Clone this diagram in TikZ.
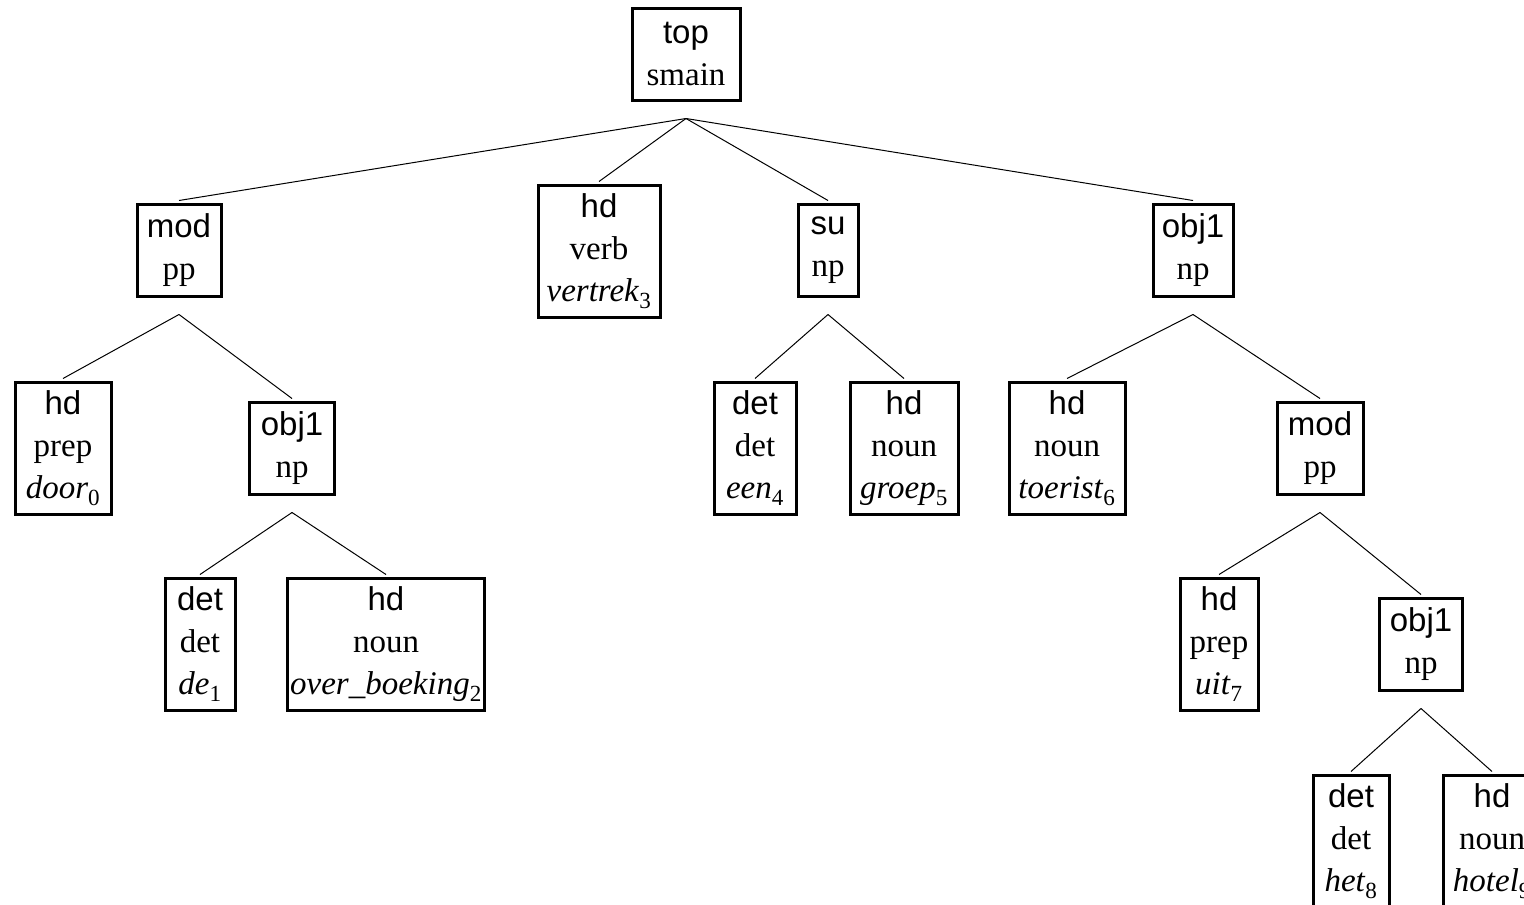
\documentclass[tikz,border=0pt]{standalone}
\usepackage{fontspec}
\setmainfont{Liberation Serif}
\setsansfont{Liberation Sans}
\newcommand\idx[1]{{\upshape\textsubscript{#1}}}
\begin{document}
\begin{tikzpicture}[x=1pt,y=-1pt,
  cat/.style={draw,line width=3pt,inner sep=0pt,align=center,
    font=\fontsize{33}{42}\selectfont,minimum height=92pt},
  leaf/.style={cat,minimum height=132pt},
  edge/.style={line width=1pt}]
\clip (0,0) rectangle (1524,905);
\fill[white] (0,0) rectangle (1524,905);

% constituents
\node[cat,minimum width=108pt] (top) at (686,54) {\textsf{top}\\smain};
\node[cat,minimum width=84pt] (mod1) at (179,250) {\textsf{mod}\\pp};
\node[leaf,minimum width=122pt] (verb) at (599,251) {\textsf{hd}\\verb\\\textit{vertrek}\idx{3}};
\node[cat,minimum width=60pt] (su) at (828,250) {\textsf{su}\\np};
\node[cat,minimum width=80pt] (obja) at (1193,250) {\textsf{obj1}\\np};

\node[leaf,minimum width=96pt] (door) at (63,448) {\textsf{hd}\\prep\\\textit{door}\idx{0}};
\node[cat,minimum width=85pt] (objb) at (292,448) {\textsf{obj1}\\np};
\node[leaf,minimum width=82pt] (een) at (755,448) {\textsf{det}\\det\\\textit{een}\idx{4}};
\node[leaf,minimum width=108pt] (groep) at (904,448) {\textsf{hd}\\noun\\\textit{groep}\idx{5}};
\node[leaf,minimum width=116pt] (toerist) at (1067,448) {\textsf{hd}\\noun\\\textit{toerist}\idx{6}};
\node[cat,minimum width=86pt] (mod2) at (1320,448) {\textsf{mod}\\pp};

\node[leaf,minimum width=70pt] (de) at (200,644) {\textsf{det}\\det\\\textit{de}\idx{1}};
\node[leaf,minimum width=197pt] (over) at (386,644) {\textsf{hd}\\noun\\\textit{over\_boeking}\idx{2}};
\node[leaf,minimum width=78pt] (uit) at (1219,644) {\textsf{hd}\\prep\\\textit{uit}\idx{7}};
\node[cat,minimum width=83pt] (objc) at (1421,644) {\textsf{obj1}\\np};

\node[leaf,minimum width=76pt] (het) at (1351,841) {\textsf{det}\\det\\\textit{het}\idx{8}};
\node[leaf,minimum width=98pt] (hotel) at (1492,841) {\textsf{hd}\\noun\\\textit{hotel}\idx{9}};

% branch points just below each mother
\foreach \m in {top,mod1,su,obja,objb,mod2,objc}
  \coordinate (\m-fork) at ([yshift=-17pt]\m.south);

% branches
\foreach \m/\d in {top/mod1,top/verb,top/su,top/obja,
                   mod1/door,mod1/objb,objb/de,objb/over,
                   su/een,su/groep,obja/toerist,obja/mod2,
                   mod2/uit,mod2/objc,objc/het,objc/hotel}
  \draw[edge] (\m-fork) -- ([yshift=2pt]\d.north);
\end{tikzpicture}
\end{document}
